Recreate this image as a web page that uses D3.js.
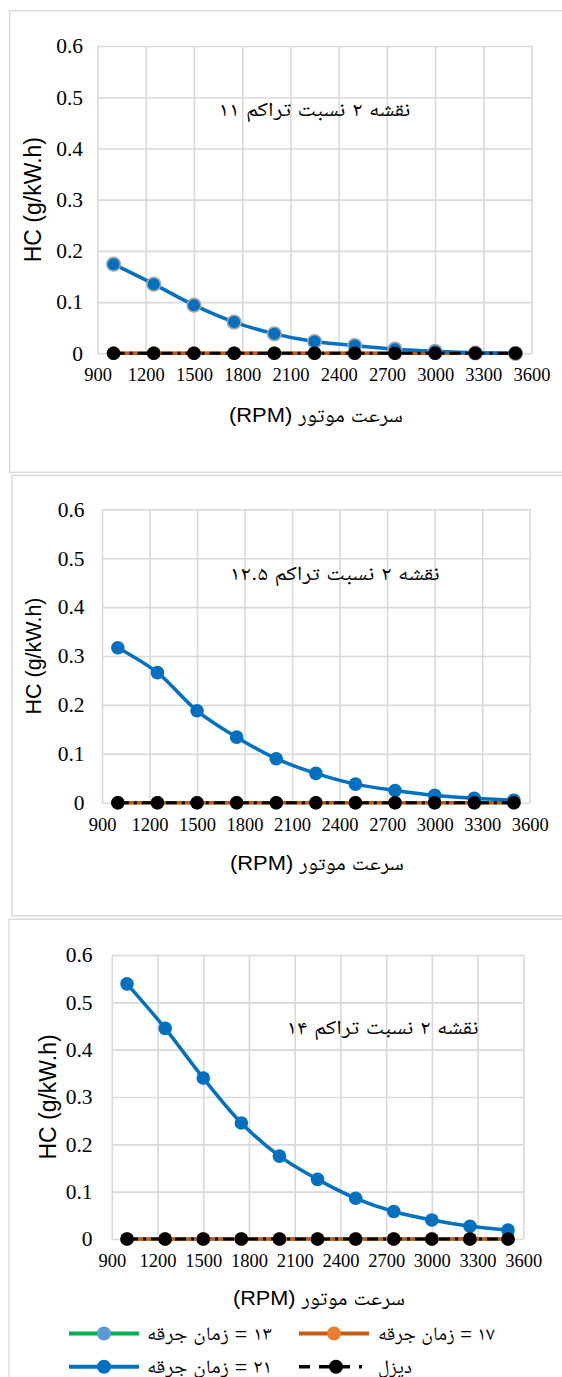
<!DOCTYPE html>
<html>
<head>
<meta charset="utf-8">
<script src="https://cdn.jsdelivr.net/npm/d3@7"></script>
<style>
  html, body { margin: 0; padding: 0; background: #ffffff; }
  svg { display: block; }
</style>
</head>
<body>
<svg id="chart" width="562" height="1377"></svg>
<script>
// ---------------- DATA ----------------
const rpm = [1000, 1250, 1500, 1750, 2000, 2250, 2500, 2750, 3000, 3250, 3500];
const xTickValues = [900, 1200, 1500, 1800, 2100, 2400, 2700, 3000, 3300, 3600];
const yTickValues = [0, 0.1, 0.2, 0.3, 0.4, 0.5, 0.6];

// Compression ratio 11
const cr11_spark13 = [0, 0, 0, 0, 0, 0, 0, 0, 0, 0, 0];
const cr11_spark17 = [0, 0, 0, 0, 0, 0, 0, 0, 0, 0, 0];
const cr11_spark21 = [0.174, 0.135, 0.094, 0.061, 0.038, 0.023, 0.015, 0.008, 0.004, 0.001, 0.000];
const cr11_diesel  = [0, 0, 0, 0, 0, 0, 0, 0, 0, 0, 0];

// Compression ratio 12.5
const cr125_spark13 = [0, 0, 0, 0, 0, 0, 0, 0, 0, 0, 0];
const cr125_spark17 = [0, 0, 0, 0, 0, 0, 0, 0, 0, 0, 0];
const cr125_spark21 = [0.317, 0.266, 0.188, 0.134, 0.090, 0.060, 0.038, 0.025, 0.015, 0.009, 0.005];
const cr125_diesel  = [0, 0, 0, 0, 0, 0, 0, 0, 0, 0, 0];

// Compression ratio 14
const cr14_spark13 = [0, 0, 0, 0, 0, 0, 0, 0, 0, 0, 0];
const cr14_spark17 = [0, 0, 0, 0, 0, 0, 0, 0, 0, 0, 0];
const cr14_spark21 = [0.539, 0.445, 0.340, 0.245, 0.175, 0.126, 0.086, 0.058, 0.040, 0.027, 0.019];
const cr14_diesel  = [0, 0, 0, 0, 0, 0, 0, 0, 0, 0, 0];

const chartTitles = ["نقشه ۲ نسبت تراکم ۱۱", "نقشه ۲ نسبت تراکم ۱۲.۵", "نقشه ۲ نسبت تراکم ۱۴"];
const xAxisTitle = "سرعت موتور (RPM)";
const yAxisTitle = "HC (g/kW.h)";
const legendLabels = ["۱۳  =  زمان جرقه", "۱۷ = زمان جرقه", "۲۱ = زمان جرقه", "دیزل"];

// ---------------- STYLE ----------------
const gridColor = "#d9d9d9";
const serif = "'Liberation Serif', 'Times New Roman', serif";
const sans = "'Liberation Sans', Arial, sans-serif";
const arabicFont = "'Liberation Sans', 'Noto Naskh Arabic', 'Noto Sans Arabic', 'DejaVu Sans', sans-serif";

const seriesStyles = {
  s13: { line: "#00b050", fill: "#5b9bd5", width: 3.2, dash: null },
  s17: { line: "#c55a11", fill: "#ed7d31", width: 3.4, dash: null },
  s21: { line: "#0070c0", fill: "#0070c0", width: 3.5, dash: null },
  dsl: { line: "#000000", fill: "#000000", width: 3.0, dash: "11,5,3,5" }
};

const charts = [
  { data: [cr11_spark13, cr11_spark17, cr11_spark21, cr11_diesel],
    panel: { x: 9.7, y: 10.7, w: 600, h: 461.6 },
    px0: 97.5, px1: 531.6, py0: 353.3, py1: 46,
    title: { x: 314.5, y: 109, w: 192 }, xt: { x: 316, y: 415, w: 174 },
    yt: { x: 32.8, size: 23 }, ylabRight: 83, markerStroke: "#a5a5a5" },
  { data: [cr125_spark13, cr125_spark17, cr125_spark21, cr125_diesel],
    panel: { x: 12, y: 475.3, w: 600, h: 440.4 },
    px0: 102, px1: 529.7, py0: 802.7, py1: 509.3,
    title: { x: 334.8, y: 573.3, w: 210 }, xt: { x: 317, y: 863.3, w: 174 },
    yt: { x: 33, size: 21.5 }, ylabRight: 84.5, markerStroke: "none" },
  { data: [cr14_spark13, cr14_spark17, cr14_spark21, cr14_diesel],
    panel: { x: 9, y: 919.3, w: 600, h: 600 },
    px0: 111.8, px1: 523.3, py0: 1239, py1: 955,
    title: { x: 382.6, y: 1026.7, w: 192 }, xt: { x: 319, y: 1298, w: 172 },
    yt: { x: 47.5, size: 23 }, ylabRight: 92.5, markerStroke: "none" }
];

const svg = d3.select("#chart");
svg.append("rect").attr("width", 562).attr("height", 1377).attr("fill", "#fff");

const keys = ["s13", "s17", "s21", "dsl"];

charts.forEach((c, ci) => {
  const g = svg.append("g");
  // panel border
  g.append("rect")
    .attr("x", c.panel.x).attr("y", c.panel.y)
    .attr("width", c.panel.w).attr("height", c.panel.h)
    .attr("fill", "none").attr("stroke", gridColor).attr("stroke-width", 1.4);

  const x = d3.scaleLinear().domain([900, 3600]).range([c.px0, c.px1]);
  const y = d3.scaleLinear().domain([0, 0.6]).range([c.py0, c.py1]);

  // gridlines
  const yAxisGrid = d3.axisLeft(y).tickValues(yTickValues).tickSize(-(c.px1 - c.px0)).tickFormat("");
  const gy = g.append("g").attr("transform", `translate(${c.px0},0)`).call(yAxisGrid);
  gy.select(".domain").remove();
  gy.selectAll("line").attr("stroke", gridColor).attr("stroke-width", 1.6);

  const xAxisGrid = d3.axisBottom(x).tickValues(xTickValues).tickSize(-(c.py0 - c.py1)).tickFormat("");
  const gx = g.append("g").attr("transform", `translate(0,${c.py0})`).call(xAxisGrid);
  gx.select(".domain").remove();
  gx.selectAll("line").attr("stroke", gridColor).attr("stroke-width", 1.6);

  // tick labels
  const yLab = d3.axisLeft(y).tickValues(yTickValues).tickSize(0).tickPadding(c.px0 - c.ylabRight)
    .tickFormat(d => d === 0 ? "0" : d3.format(".1f")(d));
  const gyl = g.append("g").attr("transform", `translate(${c.px0},0)`).call(yLab);
  gyl.select(".domain").remove();
  gyl.selectAll("text").attr("font-family", serif).attr("font-size", 21.5).attr("fill", "#000");

  const xLab = d3.axisBottom(x).tickValues(xTickValues).tickSize(0).tickPadding(15).tickFormat(d3.format("d"));
  const gxl = g.append("g").attr("transform", `translate(0,${c.py0})`).call(xLab);
  gxl.select(".domain").remove();
  gxl.selectAll("text").attr("font-family", serif).attr("font-size", 18.5).attr("fill", "#000");

  // series
  c.data.forEach((vals, i) => {
    const st = seriesStyles[keys[i]];
    const pts = rpm.map((r, j) => [r, vals[j]]);
    const line = d3.line().x(d => x(d[0])).y(d => y(d[1]))
      .curve(keys[i] === "s21" ? d3.curveCatmullRom.alpha(0.5) : d3.curveLinear);
    g.append("path").datum(pts)
      .attr("d", line).attr("fill", "none")
      .attr("stroke", st.line).attr("stroke-width", st.width)
      .attr("stroke-dasharray", st.dash).attr("stroke-linejoin", "round");
    g.selectAll(null).data(pts).enter().append("circle")
      .attr("cx", d => x(d[0])).attr("cy", d => y(d[1]))
      .attr("r", 6.8)
      .attr("fill", st.fill)
      .attr("stroke", keys[i] === "s21" ? c.markerStroke : "none")
      .attr("stroke-width", 1.6);
  });

  // chart title (inside plot)
  g.append("text")
    .attr("x", c.title.x).attr("y", c.title.y).attr("dy", "0.35em")
    .attr("text-anchor", "middle").attr("direction", "rtl")
    .attr("font-family", arabicFont).attr("font-size", 20)
    .attr("textLength", c.title.w).attr("lengthAdjust", "spacingAndGlyphs")
    .attr("fill", "#000").text(chartTitles[ci]);

  // x axis title
  g.append("text")
    .attr("x", c.xt.x).attr("y", c.xt.y).attr("dy", "0.35em")
    .attr("text-anchor", "middle").attr("direction", "rtl")
    .attr("font-family", arabicFont).attr("font-size", 20)
    .attr("textLength", c.xt.w).attr("lengthAdjust", "spacingAndGlyphs")
    .attr("fill", "#000").text(xAxisTitle);

  // y axis title
  const yc = (c.py0 + c.py1) / 2;
  g.append("text")
    .attr("transform", `translate(${c.yt.x},${yc}) rotate(-90)`)
    .attr("dy", "0.35em").attr("text-anchor", "middle")
    .attr("font-family", sans).attr("font-size", c.yt.size)
    .attr("fill", "#000").text(yAxisTitle);
});

// ---------------- LEGEND ----------------
const legendItems = [
  { key: "s13", x0: 69, x1: 139, mx: 104, tx: 147, y: 1333.5, label: legendLabels[0], tw: 125 },
  { key: "s17", x0: 299, x1: 369, mx: 334, tx: 378, y: 1333.5, label: legendLabels[1], tw: 117 },
  { key: "s21", x0: 69, x1: 139, mx: 104, tx: 147, y: 1366.7, label: legendLabels[2], tw: 125 },
  { key: "dsl", x0: 299, x1: 362, mx: 336, tx: 378, y: 1366.7, label: legendLabels[3], tw: 34 }
];
const lg = svg.append("g");
legendItems.forEach(it => {
  const st = seriesStyles[it.key];
  lg.append("line").attr("x1", it.x0).attr("x2", it.x1).attr("y1", it.y).attr("y2", it.y)
    .attr("stroke", st.line).attr("stroke-width", st.width + 0.6)
    .attr("stroke-dasharray", it.key === "dsl" ? "11,9" : null);
  lg.append("circle").attr("cx", it.mx).attr("cy", it.y).attr("r", 7).attr("fill", st.fill);
  lg.append("text").attr("x", it.tx).attr("y", it.y).attr("dy", "0.35em")
    .attr("direction", "rtl").attr("text-anchor", "end")
    .attr("font-family", arabicFont).attr("font-size", 19)
    .attr("textLength", it.tw).attr("lengthAdjust", "spacingAndGlyphs")
    .attr("fill", "#000").text(it.label);
});
</script>
</body>
</html>
